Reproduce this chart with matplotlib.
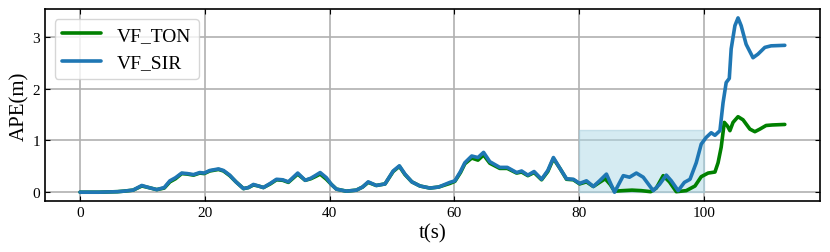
import numpy as np
import matplotlib.pyplot as plt

# APE of the two filters
t_ton = [0, 3, 6, 7, 8.5, 9.9, 11, 12.3, 13.5, 14.4, 15.3, 16.3, 17.2, 18.2, 19.2, 19.9, 20.8, 22.2, 23,
         24, 25, 26.2, 27, 27.8, 28.6, 29.4, 30.5, 31.5, 32.5, 33.4, 34.9, 36.1, 37, 37.7, 38.5, 39.5,
         40.3, 41.1, 42.7, 44.3, 45.3, 46.2, 47.5, 48.9, 50.2, 51.2, 52.1, 53.2, 54.5, 56.1, 57.5,
         59.3, 60.1, 61, 61.7, 62.8, 63.8, 64.7, 65.7, 67.3, 68.5, 70, 70.8, 71.8, 72.8, 74, 75, 75.9,
         77, 78, 79.1, 80.1, 81.2, 82.3, 83.3, 84.2, 85, 85.7, 87, 88.5, 90, 91.5, 92.4, 93.5, 94.5,
         95.6, 97.2, 98.6, 99.6, 100.7, 101.8, 102.3, 102.8, 103.3, 103.8, 104.2, 104.7, 105.5,
         106.3, 107.4, 108.2, 109, 110, 111, 113]
ape_ton = [0, 0, 0.01, 0.02, 0.04, 0.12, 0.09, 0.05, 0.08, 0.2, 0.26, 0.36, 0.35, 0.33, 0.37, 0.36,
           0.41, 0.44, 0.41, 0.32, 0.2, 0.07, 0.09, 0.14, 0.12, 0.09, 0.16, 0.24, 0.23, 0.19, 0.35,
           0.23, 0.26, 0.3, 0.35, 0.25, 0.15, 0.06, 0.02, 0.04, 0.1, 0.19, 0.13, 0.16, 0.4, 0.5, 0.34,
           0.2, 0.12, 0.08, 0.1, 0.17, 0.21, 0.38, 0.55, 0.66, 0.62, 0.72, 0.56, 0.46, 0.46, 0.37,
           0.39, 0.32, 0.38, 0.24, 0.4, 0.65, 0.45, 0.25, 0.24, 0.16, 0.2, 0.11, 0.19, 0.26, 0.15,
           0.02, 0.03, 0.04, 0.03, 0.01, 0.08, 0.32, 0.2, 0.01, 0.03, 0.12, 0.3, 0.37, 0.39, 0.57,
           0.87, 1.35, 1.28, 1.19, 1.35, 1.46, 1.4, 1.22, 1.17, 1.22, 1.29, 1.3, 1.31]

t_sir = [0, 3, 6, 7, 8.5, 9.9, 11, 12.3, 13.5, 14.4, 15.3, 16.3, 17.2, 18.2, 19.2, 19.9, 20.8, 22.2, 23,
         24, 25, 26.2, 27, 27.8, 28.6, 29.4, 30.5, 31.5, 32.5, 33.4, 34.9, 36.1, 37, 37.7, 38.5, 39.5,
         40.3, 41.1, 42.7, 44.3, 45.3, 46.2, 47.5, 48.9, 50.2, 51.2, 52.1, 53.2, 54.5, 56.1, 57.5,
         59.3, 60.1, 61, 61.7, 62.8, 63.8, 64.7, 65.7, 67.3, 68.5, 70, 70.8, 71.8, 72.8, 74, 75, 75.9,
         77, 78, 79.1, 80.1, 81.2, 82.3, 83.3, 84.4, 85.7, 87.1, 88.1, 89.2, 90.3, 91.9, 92.9, 94,
         94.8, 95.9, 96.9, 97.8, 98.8, 99.6, 100.4, 101.2, 101.8, 102.6, 103.1, 103.6, 104.1, 104.4,
         105, 105.5, 106, 106.8, 107.9, 108.7, 109.8, 110.8, 113]
ape_sir = [0, 0, 0.01, 0.02, 0.04, 0.13, 0.09, 0.05, 0.09, 0.22, 0.28, 0.37, 0.36, 0.34, 0.38, 0.37,
           0.42, 0.45, 0.42, 0.33, 0.2, 0.07, 0.09, 0.15, 0.12, 0.09, 0.17, 0.25, 0.24, 0.2, 0.37,
           0.23, 0.27, 0.32, 0.38, 0.28, 0.15, 0.06, 0.02, 0.04, 0.1, 0.2, 0.13, 0.16, 0.41, 0.51,
           0.35, 0.2, 0.12, 0.08, 0.1, 0.19, 0.22, 0.4, 0.57, 0.7, 0.67, 0.77, 0.59, 0.48, 0.48, 0.38,
           0.41, 0.33, 0.4, 0.25, 0.42, 0.67, 0.45, 0.26, 0.25, 0.17, 0.22, 0.11, 0.22, 0.35, 0.0,
           0.32, 0.29, 0.37, 0.29, 0.03, 0.15, 0.33, 0.22, 0.03, 0.19, 0.25, 0.57, 0.93, 1.06, 1.15,
           1.1, 1.19, 1.73, 2.12, 2.2, 2.77, 3.22, 3.37, 3.22, 2.86, 2.6, 2.67, 2.8, 2.83, 2.84]

plt.rcParams['font.family'] = ['Liberation Serif', 'DejaVu Serif']

fig = plt.figure(figsize=(8.3, 2.53), dpi=100)
ax = fig.add_axes([0.054, 0.2016, 0.934, 0.7584])

ax.fill_between([80, 100], 0, 1.2, color='lightblue', alpha=0.5, edgecolor='#9fcbdc', lw=1)
ax.plot(t_ton, ape_ton, color='green', lw=2.6, solid_joinstyle='round', solid_capstyle='round',
        label='VF_TON')
ax.plot(t_sir, ape_sir, color='#1f77b4', lw=2.6, solid_joinstyle='round', solid_capstyle='round',
        label='VF_SIR')

ax.set_xticks([0, 20, 40, 60, 80, 100])
ax.set_yticks([0, 1, 2, 3])
ax.set_ylim(-0.17, 3.54)
ax.grid(True, color='#b0b0b0', lw=1.2)
ax.set_axisbelow(True)
ax.tick_params(direction='in', top=True, right=True, labelsize=11)
for s in ax.spines.values():
    s.set_linewidth(1.2)

ax.set_xlabel('t(s)', fontsize=15, labelpad=3)
ax.set_ylabel('APE(m)', fontsize=15, labelpad=2)
ax.legend(loc='upper left', fontsize=14, handlelength=2.0, borderaxespad=0.5)

fig.savefig('out.png', dpi=100)
